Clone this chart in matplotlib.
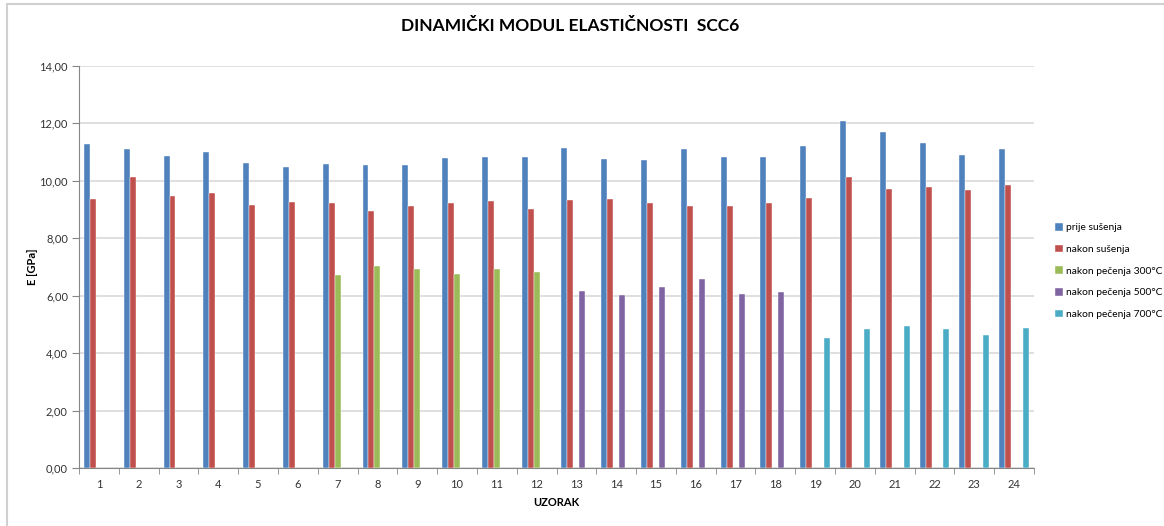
# Dinamicki modul elasticnosti za uzorke SCC6 po fazama toplinske obrade
import numpy as np
import matplotlib.pyplot as plt
from matplotlib.patches import Rectangle

uzorci = [str(i) for i in range(1, 25)]

prije_susenja = [11.27, 11.10, 10.86, 11.00, 10.63, 10.47, 10.59, 10.55,
                 10.53, 10.78, 10.82, 10.84, 11.13, 10.74, 10.72, 11.09,
                 10.82, 10.84, 11.22, 12.07, 11.68, 11.30, 10.88, 11.09]
nakon_susenja = [9.38, 10.13, 9.48, 9.56, 9.17, 9.25, 9.21, 8.95,
                 9.11, 9.21, 9.30, 9.02, 9.33, 9.35, 9.21, 9.12,
                 9.11, 9.24, 9.40, 10.12, 9.71, 9.79, 9.68, 9.85]
nan = np.nan
pecenje_300 = [nan] * 6 + [6.73, 7.04, 6.92, 6.76, 6.92, 6.84] + [nan] * 12
pecenje_500 = [nan] * 12 + [6.15, 6.03, 6.31, 6.59, 6.06, 6.14] + [nan] * 6
pecenje_700 = [nan] * 18 + [4.54, 4.83, 4.94, 4.83, 4.63, 4.87]

serije = [
    ("prije sušenja", prije_susenja, "#4F81BD"),
    ("nakon sušenja", nakon_susenja, "#C0504D"),
    ("nakon pečenja 300°C", pecenje_300, "#9BBB59"),
    ("nakon pečenja 500°C", pecenje_500, "#8064A2"),
    ("nakon pečenja 700°C", pecenje_700, "#4BACC6"),
]

plt.rcParams['font.family'] = ['Lato', 'DejaVu Sans']

fig = plt.figure(figsize=(11.64, 5.26), dpi=100)
ax = fig.add_axes([79 / 1164, 1 - 468.3 / 526, 955 / 1164, 402.6 / 526])

# okvir grafikona
fig.patches.append(Rectangle((6.5 / 1164, -0.1), 1.2, 1.1 - 4 / 526,
                             transform=fig.transFigure, fill=False,
                             edgecolor="#d0d0d0", linewidth=1.5))

x = np.arange(len(uzorci))
sirina = 0.15
for k, (naziv, vrijednosti, boja) in enumerate(serije):
    ax.bar(x + (k - 2) * sirina, vrijednosti, width=sirina, color=boja,
           edgecolor="white", linewidth=0.3, label=naziv, zorder=3)

ax.set_xlim(-0.5, len(uzorci) - 0.5)
ax.set_ylim(0, 14)
ax.set_yticks(np.arange(0, 14.01, 2))
ax.set_yticklabels([f"{v:.2f}".replace(".", ",") for v in np.arange(0, 14.01, 2)])
ax.set_xticks(x)
ax.set_xticklabels(uzorci)
ax.set_xticks(np.arange(-0.5, len(uzorci)), minor=True)
ax.tick_params(axis="x", which="major", length=0, pad=8)
ax.tick_params(axis="x", which="minor", length=4, color="#868686")
ax.tick_params(axis="y", length=5, color="#868686", pad=3)
ax.tick_params(labelsize=8, labelcolor="#333333")

ax.grid(axis="y", color="#d9d9d9", linewidth=1.2, zorder=0)
ax.set_axisbelow(True)
for s in ("top", "right"):
    ax.spines[s].set_visible(False)
for s in ("left", "bottom"):
    ax.spines[s].set_color("#868686")

ax.set_xlabel("UZORAK", fontsize=8, fontweight="bold", labelpad=5)
ax.set_ylabel("E [GPa]", fontsize=8, fontweight="bold", labelpad=1)
fig.text(570 / 1164, 1 - 26 / 526, "DINAMIČKI MODUL ELASTIČNOSTI  SCC6",
         ha="center", va="center", fontsize=12.5, fontweight="bold")

ax.legend(loc="center left", bbox_to_anchor=(1.018, 0.49), frameon=False,
          fontsize=7.4, handlelength=0.75, handleheight=0.75, handletextpad=0.3,
          labelspacing=1.2, borderaxespad=0)

fig.savefig("out.png", dpi=100)
